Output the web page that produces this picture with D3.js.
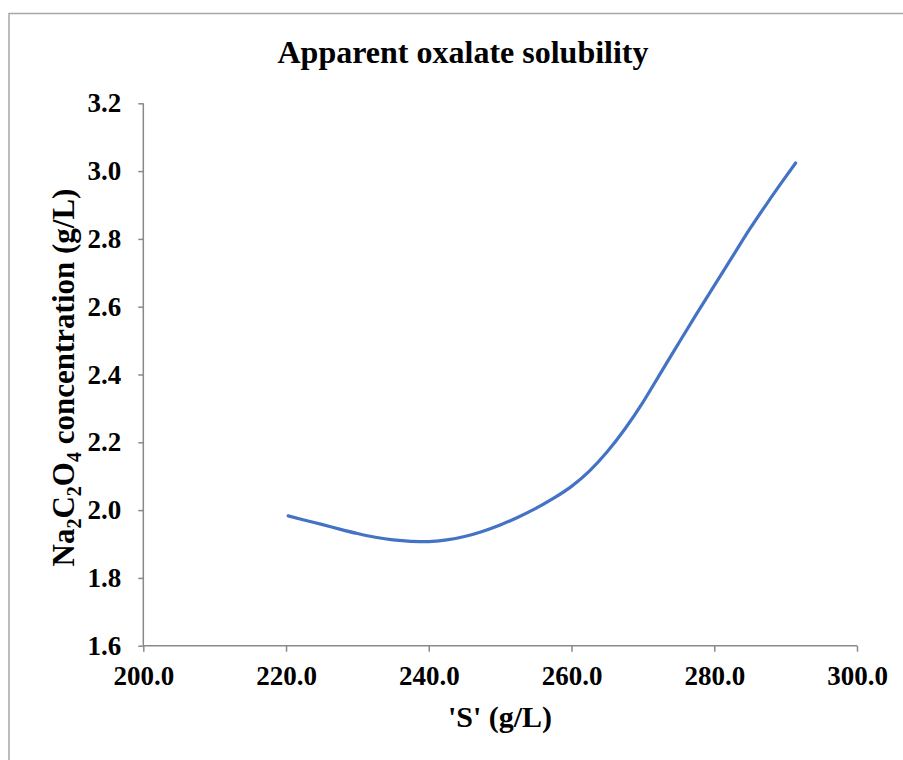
<!DOCTYPE html>
<html>
<head>
<meta charset="utf-8">
<script src="https://cdn.jsdelivr.net/npm/d3@7"></script>
<style>
  html, body { margin: 0; padding: 0; background: #fff; }
  svg { display: block; }
  text { font-family: "Liberation Serif", "Times New Roman", serif; font-weight: bold; fill: #000; }
</style>
</head>
<body>
<svg id="chart" width="903" height="760"></svg>
<script>
const chartTitle = "Apparent oxalate solubility";
const xTitle = "'S' (g/L)";
const xTicks = [200, 220, 240, 260, 280, 300];
const yTicks = [1.6, 1.8, 2.0, 2.2, 2.4, 2.6, 2.8, 3.0, 3.2];

const sValues = [220.3, 222.5, 225, 227.5, 230, 232.5, 235, 237.5, 240, 242.5, 245, 247.5, 250, 252.5, 255, 257.5, 260, 262.5, 265, 267.5, 270, 272.5, 275, 277.5, 280, 282.5, 285, 287.5, 289.5, 291.4];
const oxalate = [1.983, 1.971, 1.958, 1.944, 1.931, 1.920, 1.912, 1.908, 1.907, 1.912, 1.922, 1.937, 1.956, 1.979, 2.005, 2.035, 2.070, 2.115, 2.172, 2.240, 2.318, 2.405, 2.492, 2.578, 2.662, 2.746, 2.830, 2.908, 2.968, 3.024];

(function () {
const svg = d3.select("#chart");
const pL = 143.3, pR = 857, pT = 103.3, pB = 645.7;
const axisColor = "#898989";

// outer border
svg.append("rect")
  .attr("x", 9).attr("y", 13.5)
  .attr("width", 1000).attr("height", 1000)
  .attr("fill", "none").attr("stroke", "#a6a6a6").attr("stroke-width", 1.5);

const x = d3.scaleLinear().domain([200, 300]).range([pL, pR]);
const y = d3.scaleLinear().domain([1.6, 3.2]).range([pB, pT]);

// y axis
const yAxis = svg.append("g").attr("transform", `translate(${pL},0)`)
  .call(d3.axisLeft(y).tickValues(yTicks).tickSize(5).tickPadding(17).tickFormat(d3.format(".1f")));
yAxis.select(".domain").attr("stroke", axisColor).attr("stroke-width", 1.5).attr("d", `M0,${pT}V${pB}`);
yAxis.selectAll(".tick line").attr("stroke", axisColor).attr("stroke-width", 1.5);
yAxis.selectAll(".tick text").attr("font-size", 27).attr("font-family", "Liberation Serif").attr("font-weight", "bold").attr("fill", "#000");

// x axis
const xAxis = svg.append("g").attr("transform", `translate(0,${pB})`)
  .call(d3.axisBottom(x).tickValues(xTicks).tickSize(6).tickPadding(14).tickFormat(d3.format(".1f")));
xAxis.select(".domain").attr("stroke", axisColor).attr("stroke-width", 1.5).attr("d", `M${pL},0H${pR}`);
xAxis.selectAll(".tick line").attr("stroke", axisColor).attr("stroke-width", 1.5);
xAxis.selectAll(".tick text").attr("font-size", 27).attr("font-family", "Liberation Serif").attr("font-weight", "bold").attr("fill", "#000");

// line
const data = sValues.map((s, i) => ({ s, v: oxalate[i] }));
svg.append("path")
  .datum(data)
  .attr("fill", "none")
  .attr("stroke", "#4472C4")
  .attr("stroke-width", 3.2)
  .attr("stroke-linecap", "round")
  .attr("stroke-linejoin", "round")
  .attr("d", d3.line().x(d => x(d.s)).y(d => y(d.v)).curve(d3.curveMonotoneX));

// title
svg.append("text").attr("x", 463).attr("y", 63).attr("text-anchor", "middle")
  .attr("font-size", 32).text(chartTitle);

// x title
svg.append("text").attr("x", 500).attr("y", 727).attr("text-anchor", "middle")
  .attr("font-size", 30).text(xTitle);

// y title with subscripts
const yt = svg.append("text")
  .attr("transform", `translate(74,${(pT + pB) / 2 + 3}) rotate(-90)`)
  .attr("text-anchor", "middle")
  .attr("font-size", 31);
const parts = [["Na", false], ["2", true], ["C", false], ["2", true], ["O", false], ["4", true], [" concentration (g/L)", false]];
parts.forEach(([t, sub], i) => {
  const ts = yt.append("tspan").text(t);
  const prevSub = i > 0 && parts[i - 1][1];
  if (sub) ts.attr("font-size", 20);
  if (sub && !prevSub) ts.attr("dy", 7);
  else if (!sub && prevSub) ts.attr("dy", -7);
});
})();
</script>
</body>
</html>
